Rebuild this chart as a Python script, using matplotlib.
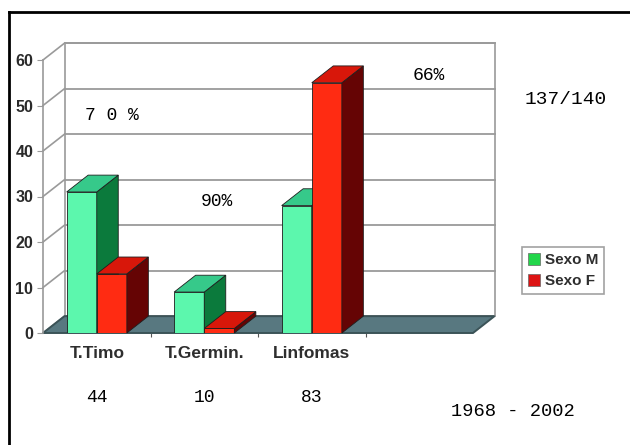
import numpy as np
import matplotlib
matplotlib.use('Agg')
import matplotlib.pyplot as plt
from matplotlib.patches import Polygon, Rectangle, Patch
from matplotlib.lines import Line2D

# data
categories = ['T.Timo', 'T.Germin.', 'Linfomas']
sexo_m = [31, 9, 28]
sexo_f = [13, 1, 55]
pct_labels = ['7 0 %', '90%', '66%']
n_slots = 4          # one empty slot on the right
yticks = [0, 10, 20, 30, 40, 50, 60]

# colours (front, side, top)
green = ('#5cf7ad', '#0b7a3c', '#36c98a')
red = ('#ff2b12', '#650404', '#d8170a')
floor_col = '#587880'
grid_col = '#9a9a9a'

DX, DY = 0.2, 3.7    # depth offset in data units
BW = 0.28            # bar width

W, H = 630, 445


def px(x, y):
    # pixel (from top-left) -> figure fraction
    return x / W, 1 - y / H


def draw_bar(ax, x0, h, cols, z):
    front, side, top = cols
    ec = '#1e1e1e'
    ax.add_patch(Rectangle((x0, 0), BW, h, fc=front, ec=ec, lw=0.6, zorder=z))
    ax.add_patch(Polygon([(x0 + BW, 0), (x0 + BW + DX, DY), (x0 + BW + DX, h + DY), (x0 + BW, h)],
                         closed=True, fc=side, ec=ec, lw=0.6, zorder=z, clip_on=False))
    ax.add_patch(Polygon([(x0, h), (x0 + BW, h), (x0 + BW + DX, h + DY), (x0 + DX, h + DY)],
                         closed=True, fc=top, ec=ec, lw=0.6, zorder=z, clip_on=False))


fig = plt.figure(figsize=(6.3, 4.45), dpi=100)
fig.patch.set_facecolor('white')

l, b = px(43, 333)
ax = fig.add_axes([l, b, 430 / W, (333 - 60) / H])
ax.set_xlim(0, n_slots)
ax.set_ylim(0, 60)
ax.patch.set_visible(False)
for s in ['top', 'right', 'bottom']:
    ax.spines[s].set_visible(False)
ax.spines['left'].set_color(grid_col)
ax.spines['left'].set_linewidth(1.2)

# back wall + gridlines
ax.add_patch(Polygon([(DX, DY), (n_slots + DX, DY), (n_slots + DX, 60 + DY), (DX, 60 + DY)],
                     closed=True, fc='white', ec=grid_col, lw=1.2, zorder=1, clip_on=False))
for v in yticks:
    ax.plot([DX, n_slots + DX], [v + DY, v + DY], color=grid_col, lw=1.3, zorder=1, clip_on=False)
    ax.plot([0, DX], [v, v + DY], color=grid_col, lw=1.2, zorder=1, clip_on=False)

# floor
ax.add_patch(Polygon([(0, 0), (n_slots, 0), (n_slots + DX, DY), (DX, DY)],
                     closed=True, fc=floor_col, ec='#3b5357', lw=1.4, zorder=2, clip_on=False))

# bars
for i in range(len(categories)):
    c = i + 0.5
    draw_bar(ax, c - BW, sexo_m[i], green, 3 + 2 * i)
    draw_bar(ax, c, sexo_f[i], red, 4 + 2 * i)

ax.set_yticks(yticks)
ax.set_yticklabels([str(v) for v in yticks], fontweight='bold', fontsize=11.5, color='#2a2a2a',
                   family='Liberation Sans')
ax.tick_params(axis='y', length=4, color=grid_col, pad=3)
ax.set_xticks(range(1, n_slots))
ax.set_xticklabels([])
ax.tick_params(axis='x', length=3, color='#555555', direction='out')

# category names and totals
for i, cat in enumerate(categories):
    ax.text(i + 0.5, -4.5, cat, ha='center', va='center', fontsize=12.5, fontweight='bold',
            color='#2e2e2e', family='Liberation Sans', clip_on=False)
    ax.text(i + 0.5, -14.2, str(sexo_m[i] + sexo_f[i]), ha='center', va='center', fontsize=13,
            family='Liberation Mono', clip_on=False)

# percentages
pct_pos = [(112, 115), (217, 202), (429, 75)]
for t, (x, y) in zip(pct_labels, pct_pos):
    fig.text(*px(x, y), t, ha='center', va='center', fontsize=13, family='Liberation Mono')

fig.text(*px(566, 100), '137/140', ha='center', va='center', fontsize=14, family='Liberation Mono')
fig.text(*px(513, 412), '1968 - 2002', ha='center', va='center', fontsize=13.5, family='Liberation Mono')

# legend
handles = [Patch(fc='#22d64a', ec='#666666', lw=0.5), Patch(fc='#dd1414', ec='#666666', lw=0.5)]
leg = fig.legend(handles, ['Sexo M', 'Sexo F'], loc='upper left', bbox_to_anchor=px(522, 247),
                 borderaxespad=0, frameon=True, fancybox=False, edgecolor='#8a8a8a', borderpad=0.4,
                 handlelength=0.8, handleheight=0.8, handletextpad=0.3, labelspacing=0.45,
                 prop={'family': 'Liberation Sans', 'weight': 'bold', 'size': 11})
leg.get_frame().set_linewidth(1.2)
for t in leg.get_texts():
    t.set_color('#2e2e2e')

# outer frame (top and left only)
x0, y0 = px(9, 12)
fig.add_artist(Line2D([x0, 1], [y0, y0], color='black', lw=2))
fig.add_artist(Line2D([x0, x0], [0, y0], color='black', lw=2))

fig.savefig('out.png', dpi=100)
